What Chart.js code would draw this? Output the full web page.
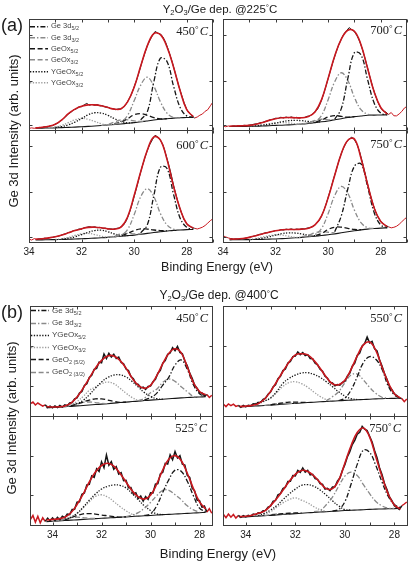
<!DOCTYPE html>
<html>
<head>
<meta charset="utf-8">
<title>Ge 3d XPS spectra</title>
<script src="https://cdn.jsdelivr.net/npm/chart.js@4.4.1/dist/chart.umd.min.js"></script>
<style>
  body { margin: 0; background: #fff; }
  #page { position: relative; width: 413px; height: 569px; overflow: hidden; font-family: "Liberation Sans", Arial, sans-serif; color: #1a1a1a; }
  canvas { position: absolute; }
  .t { position: absolute; white-space: nowrap; line-height: 1; z-index: 2; }
  .title { font-size: 11.5px; transform: translate(-50%, -50%); }
  .title sub { font-size: 7.5px; vertical-align: -2px; line-height: 0; }
  .deg { font-size: 8px; vertical-align: 3px; line-height: 0; }
  .tag { font-size: 18px; transform: translateY(-50%); }
  .ylab { font-size: 13px; transform: translate(-50%, -50%) rotate(-90deg); }
  .xlab { font-size: 12.5px; transform: translate(-50%, -50%); }
  .temp { font-family: "Liberation Serif", "Times New Roman", serif; font-size: 12.5px; transform: translateY(-50%); color: #222; }
  .temp .deg { font-size: 9px; vertical-align: 3px; margin-right: 1px; }
  .lg { position: absolute; display: flex; align-items: center; white-space: nowrap; color: #444; transform: translateY(-50%); z-index: 2; line-height: 1; }
  .lg svg { margin-right: 3px; }
  .lg sub { font-size: 5.5px; vertical-align: -2px; line-height: 0; }
</style>
</head>
<body>
<div id="page">
  <div class="t title" style="left:220px;top:10px">Y<sub>2</sub>O<sub>3</sub>/Ge dep. @225<span class="deg">°</span>C</div>
  <div class="t tag" style="left:1px;top:25px">(a)</div>
  <div class="t ylab" style="left:13px;top:131px">Ge 3d Intensity (arb. units)</div>
  <div class="t xlab" style="left:217px;top:267px">Binding Energy (eV)</div>
  <div class="t temp" style="right:205px;top:31px">450<span class="deg">°</span><i>C</i></div>
  <div class="t temp" style="right:11px;top:30px">700<span class="deg">°</span><i>C</i></div>
  <div class="t temp" style="right:205px;top:145px">600<span class="deg">°</span><i>C</i></div>
  <div class="t temp" style="right:11px;top:144px">750<span class="deg">°</span><i>C</i></div>

  <div class="t title" style="left:219px;top:295px;font-size:12px">Y<sub>2</sub>O<sub>3</sub>/Ge dep. @400<span class="deg">°</span>C</div>
  <div class="t tag" style="left:1px;top:312px">(b)</div>
  <div class="t ylab" style="left:11px;top:418px">Ge 3d Intensity (arb. units)</div>
  <div class="t xlab" style="left:218px;top:553px;font-size:13px">Binding Energy (eV)</div>
  <div class="t temp" style="right:205px;top:318px">450<span class="deg">°</span><i>C</i></div>
  <div class="t temp" style="right:11px;top:318px">550<span class="deg">°</span><i>C</i></div>
  <div class="t temp" style="right:206px;top:428px">525<span class="deg">°</span><i>C</i></div>
  <div class="t temp" style="right:12px;top:428px">750<span class="deg">°</span><i>C</i></div>
</div>

<script>
// energy axes (eV)
const rawA = [34.0, 33.9, 33.8, 33.7, 33.6, 33.5, 33.4, 33.3, 33.2, 33.1, 33.0, 32.9, 32.8, 32.7, 32.6, 32.5, 32.4, 32.3, 32.2, 32.1,
  32.0, 31.9, 31.8, 31.7, 31.6, 31.5, 31.4, 31.3, 31.2, 31.1, 31.0, 30.9, 30.8, 30.7, 30.6, 30.5, 30.4, 30.3, 30.2, 30.1,
  30.0, 29.9, 29.8, 29.7, 29.6, 29.5, 29.4, 29.3, 29.2, 29.1, 29.0, 28.9, 28.8, 28.7, 28.6, 28.5, 28.4, 28.3, 28.2, 28.1,
  28.0, 27.9, 27.8, 27.7, 27.6, 27.5, 27.4, 27.3, 27.2, 27.1, 27.0];
const rawB = [34.9, 34.8, 34.7, 34.6, 34.5, 34.4, 34.3, 34.2, 34.1, 34.0, 33.9, 33.8, 33.7, 33.6, 33.5, 33.4, 33.3, 33.2, 33.1, 33.0,
  32.9, 32.8, 32.7, 32.6, 32.5, 32.4, 32.3, 32.2, 32.1, 32.0, 31.9, 31.8, 31.7, 31.6, 31.5, 31.4, 31.3, 31.2, 31.1, 31.0,
  30.9, 30.8, 30.7, 30.6, 30.5, 30.4, 30.3, 30.2, 30.1, 30.0, 29.9, 29.8, 29.7, 29.6, 29.5, 29.4, 29.3, 29.2, 29.1, 29.0,
  28.9, 28.8, 28.7, 28.6, 28.5, 28.4, 28.3, 28.2, 28.1, 28.0, 27.9, 27.8, 27.7, 27.6, 27.5];
const gridA = [33.75, 33.5, 33.25, 33.0, 32.75, 32.5, 32.25, 32.0, 31.75, 31.5, 31.25, 31.0, 30.75, 30.5, 30.25, 30.0,
  29.75, 29.5, 29.25, 29.0, 28.75, 28.5, 28.25, 28.0, 27.75];
const gridB = [34.25, 34.0, 33.75, 33.5, 33.25, 33.0, 32.75, 32.5, 32.25, 32.0, 31.75, 31.5, 31.25, 31.0, 30.75, 30.5,
  30.25, 30.0, 29.75, 29.5, 29.25, 29.0, 28.75, 28.5, 28.25, 28.0, 27.75];
const ticksA = [34, 33, 32, 31, 30, 29, 28, 27];
const ticksB = [34, 33, 32, 31, 30, 29, 28];
const yTicksA = [5, 45, 86];
const yTicksB = [28, 64];
const _ = null;

// (a) 225 C deposition -- intensities in % of panel height
const a450Raw = [2.3, 2.8, 2.4, 2.9, 3.2, 3.0, 3.8, 3.6, 4.6, 4.9, 6.2, 7.0, 9.1, 10.6, 13.0, 15.2, 16.8, 18.9, 19.8, 21.6,
  21.7, 23.4, 24.6, 23.0, 23.8, 22.9, 23.6, 22.4, 22.6, 21.3, 21.2, 20.0, 19.9, 19.0, 19.8, 19.6, 21.5, 24.1, 28.3, 33.0,
  39.4, 46.0, 53.5, 61.8, 69.0, 76.2, 81.0, 85.6, 88.9, 87.4, 86.6, 83.8, 79.0, 72.6, 65.4, 57.3, 48.6, 40.0, 32.5, 25.2,
  19.4, 15.8, 13.6, 11.6, 12.5, 14.1, 15.2, 17.6, 19.0, 22.5, 26.0];
const a450Fit = [2.8, 3.3, 4.2, 6.0, 10.0, 15.5, 19.5, 22.0, 23.3, 23.3, 22.5, 21.0, 19.5, 19.8, 26.0, 39.0, 58.0, 76.0, 87.0, 86.0, 75.0, 57.0, 36.0, 19.0, 12.8];
const a450Bg = [2.5, 2.6, 2.7, 2.8, 3.0, 3.2, 3.5, 3.8, 4.1, 4.5, 4.9, 5.3, 5.8, 6.3, 6.9, 7.5, 8.2, 9.0, 9.8, 10.5, 11.0, 11.5, 11.8, 12.0, 12.2];
const a450Ge52 = [_, _, _, _, _, _, _, _, _, _, _, _, _, _, _, _, 10.0, 17.0, 44.0, 65.0, 62.0, 40.0, 21.0, 13.5, 12.3];
const a450Ge32 = [_, _, _, _, _, _, _, _, _, _, _, _, 6.0, 8.0, 14.0, 27.0, 41.0, 48.0, 40.0, 26.0, 16.0, 12.0, 11.8, _, _];
const a450Ox52 = [_, _, _, _, _, _, _, _, _, _, _, _, 6.5, 8.0, 11.0, 14.5, 15.5, 14.0, 12.0, 10.8, 11.0, _, _, _, _];
const a450Ox32 = [_, _, _, _, _, _, _, _, _, _, 5.0, 6.0, 8.0, 10.0, 10.0, 9.0, 8.5, 9.0, _, _, _, _, _, _, _];
const a450Y52 = [_, _, _, 3.2, 4.0, 5.5, 8.0, 11.0, 14.5, 16.3, 16.0, 14.0, 11.0, 8.5, 7.2, 7.5, _, _, _, _, _, _, _, _, _];
const a450Y32 = [_, _, 2.8, 3.6, 5.0, 7.5, 10.0, 11.3, 10.5, 8.5, 6.5, 5.5, 5.8, _, _, _, _, _, _, _, _, _, _, _, _];

const a700Raw = [4.4, 3.8, 4.5, 4.1, 4.6, 4.3, 4.9, 4.5, 5.1, 4.8, 5.3, 5.6, 6.2, 6.4, 7.3, 7.6, 8.6, 9.0, 10.2, 10.4,
  11.4, 11.2, 12.3, 11.6, 12.5, 11.8, 12.6, 11.6, 12.2, 11.5, 12.1, 12.0, 13.1, 13.4, 15.0, 17.2, 19.6, 24.5, 31.0, 38.6,
  46.8, 55.0, 63.0, 70.2, 76.8, 82.0, 86.6, 89.5, 92.3, 90.4, 88.8, 85.0, 80.0, 73.2, 65.0, 56.3, 47.4, 38.8, 31.6, 25.4,
  20.6, 17.8, 16.8, 14.8, 16.5, 13.6, 13.5, 15.2, 17.4, 20.5, 22.0];
const a700Fit = [4.3, 4.5, 4.7, 5.0, 6.0, 7.5, 9.5, 11.0, 11.8, 12.0, 11.8, 11.8, 13.0, 17.0, 28.0, 47.0, 67.0, 82.0, 90.0, 89.0, 77.0, 56.0, 35.0, 21.0, 15.0];
const a700Bg = [4.0, 4.0, 4.1, 4.2, 4.3, 4.5, 4.7, 5.0, 5.2, 5.5, 5.8, 6.2, 6.8, 7.5, 8.2, 9.0, 10.0, 11.0, 12.0, 12.8, 13.4, 14.0, 14.2, 14.3, 14.5];
const a700Ge52 = [_, _, _, _, _, _, _, _, _, _, _, _, _, _, _, _, 10.5, 20.0, 47.0, 70.0, 68.0, 46.0, 25.0, 16.0, 14.5];
const a700Ge32 = [_, _, _, _, _, _, _, _, _, _, _, _, 7.0, 8.5, 14.0, 28.0, 44.0, 52.0, 45.0, 30.0, 19.0, 15.0, 14.3, _, _];
const a700Ox52 = [_, _, _, _, _, _, _, _, _, _, _, _, 6.9, 8.0, 9.8, 12.5, 13.8, 13.0, 12.3, 12.9, _, _, _, _, _];
const a700Ox32 = [_, _, _, _, _, _, _, _, _, _, 5.8, 6.4, 7.5, 9.5, 10.5, 10.0, 10.0, _, _, _, _, _, _, _, _];
const a700Y52 = [_, _, _, 4.3, 4.6, 5.2, 6.0, 7.0, 8.3, 9.2, 9.5, 9.2, 8.5, 8.0, 8.3, _, _, _, _, _, _, _, _, _, _];
const a700Y32 = [_, _, _, 4.3, 4.8, 5.5, 6.5, 7.3, 7.6, 7.2, 6.5, 6.3, _, _, _, _, _, _, _, _, _, _, _, _, _];

const a600Raw = [3.5, 2.6, 3.9, 3.2, 3.8, 3.6, 4.3, 4.0, 4.9, 5.0, 5.6, 6.0, 6.6, 7.6, 8.2, 9.3, 9.8, 11.0, 11.3, 12.4,
  12.3, 13.6, 13.9, 14.5, 13.8, 14.4, 13.5, 13.9, 13.0, 13.2, 12.4, 12.6, 12.1, 12.8, 13.2, 14.3, 16.0, 19.6, 25.4, 32.6,
  41.0, 49.6, 58.5, 67.2, 74.8, 81.8, 87.4, 91.6, 95.3, 93.8, 91.0, 86.6, 78.9, 70.6, 61.5, 51.0, 42.0, 33.5, 26.8, 20.6,
  17.2, 14.8, 13.6, 13.0, 12.4, 13.1, 14.0, 15.5, 17.6, 19.8, 21.5];
const a600Fit = [3.3, 3.8, 4.5, 5.5, 7.0, 9.0, 11.0, 12.5, 13.8, 14.0, 13.5, 12.5, 12.3, 14.0, 23.0, 42.0, 63.0, 82.0, 94.0, 91.0, 74.0, 50.0, 30.0, 17.0, 13.3];
const a600Bg = [2.8, 2.8, 2.9, 3.0, 3.1, 3.3, 3.5, 3.8, 4.0, 4.3, 4.6, 5.0, 5.5, 6.0, 6.5, 7.0, 7.7, 8.5, 9.3, 10.0, 10.6, 11.2, 11.5, 11.8, 12.0];
const a600Ge52 = [_, _, _, _, _, _, _, _, _, _, _, _, _, _, _, _, 9.0, 16.0, 42.0, 67.0, 66.0, 43.0, 22.0, 14.0, 12.2];
const a600Ge32 = [_, _, _, _, _, _, _, _, _, _, _, _, 5.8, 7.0, 12.0, 25.0, 41.0, 48.0, 41.0, 26.0, 16.0, 12.2, 11.6, _, _];
const a600Ox52 = [_, _, _, _, _, _, _, _, _, _, _, _, 5.6, 6.5, 8.5, 11.0, 12.5, 12.3, 11.5, 11.0, 10.8, _, _, _, _];
const a600Ox32 = [_, _, _, _, _, _, _, _, _, _, _, 5.2, 6.3, 8.0, 8.5, 8.0, 8.0, _, _, _, _, _, _, _, _];
const a600Y52 = [_, _, _, _, 3.5, 4.3, 5.5, 7.5, 9.5, 11.0, 11.3, 10.0, 8.0, 6.8, 6.6, _, _, _, _, _, _, _, _, _, _];
const a600Y32 = [_, _, _, 3.1, 3.8, 5.0, 6.8, 8.2, 8.5, 7.5, 6.0, 5.2, 5.5, _, _, _, _, _, _, _, _, _, _, _, _];

const a750Raw = [6.4, 5.4, 4.5, 3.9, 3.4, 3.7, 3.2, 3.9, 4.0, 4.6, 5.1, 5.6, 6.3, 6.9, 7.7, 8.1, 9.0, 9.1, 10.0, 10.2,
  11.1, 11.0, 11.8, 11.4, 12.3, 11.8, 12.5, 11.7, 12.4, 12.0, 12.6, 12.4, 13.2, 13.5, 14.6, 15.9, 18.3, 21.5, 26.6, 32.8,
  40.4, 48.0, 56.3, 64.0, 72.0, 79.2, 84.8, 89.4, 92.0, 93.6, 91.4, 87.2, 80.6, 71.6, 62.0, 52.2, 43.0, 35.0, 28.0, 22.8,
  19.2, 17.0, 15.2, 14.3, 13.4, 13.9, 14.8, 16.5, 18.8, 21.0, 23.0];
const a750Fit = [3.5, 3.5, 4.0, 5.0, 6.5, 8.0, 9.5, 10.8, 11.7, 12.0, 12.0, 12.3, 13.0, 16.0, 24.0, 40.0, 60.0, 79.0, 91.0, 92.0, 75.0, 52.0, 31.0, 19.0, 14.5];
const a750Bg = [2.8, 2.9, 2.9, 3.0, 3.1, 3.2, 3.4, 3.6, 3.9, 4.2, 4.6, 5.0, 5.5, 6.0, 6.6, 7.3, 8.1, 9.0, 9.9, 10.8, 11.6, 12.3, 12.8, 13.2, 13.4];
const a750Ge52 = [_, _, _, _, _, _, _, _, _, _, _, _, _, _, _, _, 10.0, 24.0, 48.0, 68.0, 70.0, 50.0, 27.0, 16.0, 13.6];
const a750Ge32 = [_, _, _, _, _, _, _, _, _, _, _, _, 6.0, 7.5, 13.0, 26.0, 42.0, 50.0, 44.0, 29.0, 18.0, 13.5, 12.8, _, _];
const a750Ox52 = [_, _, _, _, _, _, _, _, _, _, _, _, 5.8, 6.5, 8.5, 12.0, 14.0, 14.0, 13.0, 12.0, 11.8, _, _, _, _];
const a750Ox32 = [_, _, _, _, _, _, _, _, _, _, _, 5.5, 7.0, 9.0, 10.0, 9.5, 9.0, _, _, _, _, _, _, _, _];
const a750Y52 = [_, _, _, _, 3.5, 4.3, 5.5, 7.0, 8.3, 9.0, 8.8, 8.0, 7.0, 6.5, _, _, _, _, _, _, _, _, _, _, _];
const a750Y32 = [_, _, _, 3.2, 4.0, 5.3, 6.5, 7.2, 7.0, 6.0, 5.0, 5.0, _, _, _, _, _, _, _, _, _, _, _, _, _];

// (b) 400 C deposition
const b450Raw = [12.0, 13.5, 10.8, 12.6, 11.2, 9.8, 11.0, 8.6, 9.8, 8.2, 9.9, 8.5, 10.4, 9.0, 10.9, 10.2, 12.6, 13.0, 16.4, 17.2,
  21.5, 23.0, 28.4, 30.0, 35.6, 37.5, 43.0, 43.8, 49.5, 48.9, 56.8, 52.6, 57.4, 54.0, 56.6, 52.8, 54.0, 49.2, 48.0, 43.2,
  41.8, 36.5, 34.6, 30.0, 29.4, 26.2, 27.0, 24.8, 27.6, 27.9, 31.8, 33.9, 39.5, 42.0, 48.6, 50.8, 56.4, 57.6, 62.5, 59.8,
  63.5, 58.2, 57.0, 50.4, 46.2, 39.5, 34.8, 28.6, 26.0, 22.0, 21.6, 19.0, 20.2, 17.6, 19.6];
const b450Fit = [9.5, 9.0, 9.2, 10.0, 12.5, 18.0, 26.0, 35.0, 44.0, 51.0, 55.0, 55.0, 51.0, 44.0, 35.0, 28.5, 25.8, 28.5, 37.0, 48.0, 57.5, 61.5, 58.0, 45.0, 31.0, 23.0, 20.0];
const b450Bg = [8.3, 8.6, 8.9, 9.2, 9.6, 10.0, 10.4, 10.8, 11.2, 11.6, 12.0, 12.5, 13.0, 13.4, 13.9, 14.3, 14.8, 15.2, 15.6, 16.0, 16.4, 16.8, 17.2, 17.5, 17.8, 18.0, 18.2];
const b450Ge52 = [_, _, _, _, _, _, _, _, _, _, _, _, _, _, _, _, 15.5, 17.5, 21.3, 28.8, 36.0, 46.8, 51.4, 43.0, 29.0, 21.0, 18.5];
const b450Ge32 = [_, _, _, _, _, _, _, _, _, _, _, _, _, _, _, 14.5, 17.0, 21.9, 25.0, 31.2, 34.2, 32.1, 27.3, 22.8, 18.5, 18.0, _];
const b450Y52 = [_, _, _, _, 10.2, 12.0, 15.0, 20.0, 26.0, 31.5, 35.5, 37.8, 38.0, 36.0, 32.0, 27.0, 22.0, 18.5, 16.5, 16.0, _, _, _, _, _, _, _];
const b450Y32 = [_, _, _, 9.5, 11.0, 14.0, 18.5, 24.0, 27.0, 30.0, 31.5, 30.0, 26.0, 21.5, 17.5, 15.0, 14.8, _, _, _, _, _, _, _, _, _, _];
const b450GeO52 = [_, _, _, _, 10.0, 11.5, 13.5, 15.3, 16.3, 16.3, 15.3, 14.0, 13.2, 13.4, _, _, _, _, _, _, _, _, _, _, _, _, _];
const b450GeO32 = [_, _, _, 9.3, 10.5, 12.0, 13.2, 13.5, 13.0, 12.3, 12.0, _, _, _, _, _, _, _, _, _, _, _, _, _, _, _, _];

const b550Raw = [11.5, 9.4, 11.8, 10.2, 11.6, 9.6, 10.4, 8.8, 10.5, 9.2, 10.6, 10.1, 11.8, 11.4, 13.0, 13.2, 16.0, 17.0, 20.6, 22.4,
  27.0, 29.0, 34.5, 36.6, 41.8, 43.2, 48.6, 50.0, 54.4, 54.8, 58.6, 56.2, 58.0, 55.4, 56.2, 52.6, 52.4, 48.4, 47.0, 43.0,
  41.2, 36.6, 35.0, 31.2, 30.6, 28.0, 29.2, 28.6, 31.2, 32.0, 36.8, 39.6, 45.8, 48.6, 55.4, 57.6, 64.0, 66.2, 72.0, 66.8,
  68.2, 61.4, 59.6, 51.6, 46.0, 39.2, 34.0, 27.4, 24.6, 20.8, 19.4, 17.0, 16.6, 13.8, 16.2];
const b550Fit = [9.5, 9.8, 10.5, 12.0, 16.0, 23.0, 32.0, 41.0, 49.5, 56.0, 57.0, 56.0, 51.0, 44.0, 36.0, 30.0, 29.0, 33.0, 43.0, 55.0, 65.0, 67.5, 60.0, 45.0, 31.0, 21.0, 17.0];
const b550Bg = [9.2, 9.4, 9.7, 10.0, 10.4, 10.8, 11.1, 11.5, 11.9, 12.3, 12.6, 13.0, 13.3, 13.7, 14.0, 14.3, 14.6, 15.0, 15.2, 15.5, 15.8, 16.0, 16.3, 16.5, 16.7, 16.8, 17.0];
const b550Ge52 = [_, _, _, _, _, _, _, _, _, _, _, _, _, _, _, _, 14.8, 17.0, 24.3, 36.3, 49.0, 54.4, 52.0, 43.0, 28.0, 20.0, 17.0];
const b550Ge32 = [_, _, _, _, _, _, _, _, _, _, _, _, _, _, 14.5, 18.3, 22.8, 30.9, 37.8, 38.7, 33.3, 26.7, 21.3, 17.8, 16.9, _, _];
const b550Y52 = [_, _, 11.0, 13.2, 14.5, 17.0, 23.0, 30.3, 34.8, 37.8, 39.6, 39.9, 38.4, 35.7, 31.8, 27.3, 22.8, 18.9, 16.5, 15.7, _, _, _, _, _, _, _];
const b550Y32 = [_, _, _, 12.0, 14.0, 17.5, 22.0, 27.5, 31.0, 31.8, 30.0, 26.8, 22.5, 18.5, 15.8, 14.6, _, _, _, _, _, _, _, _, _, _, _];
const b550GeO52 = [_, _, _, _, _, 10.8, 11.8, 12.8, 13.4, 13.4, 13.2, 13.2, _, _, _, _, _, _, _, _, _, _, _, _, _, _, _];
const b550GeO32 = [_, _, _, _, 10.4, 11.3, 12.0, 12.2, 12.2, 12.3, _, _, _, _, _, _, _, _, _, _, _, _, _, _, _, _, _];

const b525Raw = [6.0, 9.5, 3.5, 8.8, 2.8, 7.5, 4.2, 7.2, 4.6, 7.4, 5.0, 7.8, 5.6, 8.8, 7.6, 10.8, 10.4, 15.0, 15.2, 21.6,
  22.0, 28.8, 30.0, 37.4, 37.8, 45.6, 44.2, 52.0, 49.6, 58.4, 53.0, 64.5, 55.2, 58.4, 51.6, 54.0, 47.2, 48.6, 41.2, 41.6,
  34.8, 35.0, 29.0, 30.2, 25.0, 27.2, 22.6, 26.8, 24.2, 30.2, 30.0, 38.0, 38.6, 47.4, 48.8, 57.0, 56.4, 64.6, 60.2, 67.6,
  61.8, 64.0, 56.2, 55.4, 46.0, 44.2, 34.4, 32.0, 23.6, 23.0, 17.0, 18.2, 12.6, 15.8, 11.6];
const b525Fit = [5.5, 6.0, 6.5, 8.0, 12.0, 19.5, 29.0, 40.0, 49.0, 55.0, 57.0, 54.5, 48.0, 40.0, 32.0, 26.5, 24.5, 28.0, 38.0, 51.0, 61.0, 64.0, 59.5, 48.0, 34.0, 22.0, 15.5];
const b525Bg = [4.0, 4.3, 4.6, 5.0, 5.3, 5.6, 6.0, 6.3, 6.7, 7.0, 7.3, 7.6, 8.0, 8.3, 8.7, 9.0, 9.3, 9.6, 10.0, 10.3, 10.6, 10.9, 11.2, 11.5, 11.8, 12.1, 12.4];
const b525Ge52 = [_, _, _, _, _, _, _, _, _, _, _, _, _, _, _, _, 9.6, 11.0, 18.3, 30.6, 42.2, 50.8, 49.8, 40.7, 27.5, 16.2, 13.0];
const b525Ge32 = [_, _, _, _, _, _, _, _, _, _, _, _, _, 8.5, 10.0, 12.2, 16.2, 21.4, 27.5, 32.4, 32.4, 28.4, 23.9, 18.3, 14.7, 12.5, _];
const b525Y52 = [_, _, _, 6.0, 7.8, 11.5, 17.0, 23.5, 29.0, 33.6, 36.1, 37.3, 37.0, 34.6, 29.4, 23.9, 18.3, 14.1, 11.0, 10.4, _, _, _, _, _, _, _];
const b525Y32 = [_, _, 5.0, 6.3, 8.2, 11.5, 16.5, 22.0, 26.9, 28.4, 26.3, 22.3, 17.7, 13.8, 10.7, 9.2, _, _, _, _, _, _, _, _, _, _, _];
const b525GeO52 = [_, _, _, 5.5, 7.5, 9.5, 11.0, 11.3, 10.8, 10.0, 9.3, 8.6, 8.0, 8.3, _, _, _, _, _, _, _, _, _, _, _, _, _];
const b525GeO32 = [_, 4.3, 5.0, 6.3, 7.6, 8.0, 7.6, 7.0, 6.8, _, _, _, _, _, _, _, _, _, _, _, _, _, _, _, _, _, _];

const b750Raw = [10.5, 7.6, 10.8, 8.0, 10.4, 7.2, 9.6, 7.8, 9.4, 8.2, 9.8, 9.0, 10.8, 10.2, 12.0, 11.8, 13.8, 14.2, 17.2, 18.0,
  22.4, 23.2, 28.4, 29.4, 34.0, 35.2, 40.4, 40.6, 45.8, 45.6, 50.6, 48.8, 52.8, 49.0, 50.6, 46.4, 47.0, 43.0, 42.4, 38.6,
  37.8, 33.6, 34.2, 32.2, 35.4, 35.6, 40.8, 43.6, 50.4, 55.8, 62.8, 67.6, 74.0, 77.8, 83.4, 85.2, 90.6, 88.0, 86.8, 81.6,
  76.4, 68.6, 62.0, 53.0, 46.8, 38.6, 33.2, 26.4, 23.0, 18.4, 16.6, 15.0, 18.4, 20.0, 21.8];
const b750Fit = [8.5, 8.8, 9.8, 11.5, 13.5, 18.5, 25.0, 32.5, 40.5, 47.0, 50.5, 49.5, 45.5, 39.5, 34.0, 34.0, 41.5, 57.0, 73.0, 85.0, 89.0, 81.0, 63.0, 45.0, 29.0, 19.0, 15.5];
const b750Bg = [8.0, 8.3, 8.7, 9.0, 9.4, 9.7, 10.1, 10.5, 10.8, 11.2, 11.6, 12.0, 12.3, 12.7, 13.0, 13.4, 13.7, 14.1, 14.3, 14.6, 14.8, 15.1, 15.3, 15.5, 15.7, 15.8, 16.0];
const b750Ge52 = [_, _, _, _, _, _, _, _, _, _, _, _, _, _, _, 13.6, 15.0, 22.0, 38.0, 56.0, 69.0, 67.0, 55.0, 40.0, 27.0, 19.5, 16.5];
const b750Ge32 = [_, _, _, _, _, _, _, _, _, _, _, _, 13.0, 14.0, 19.3, 26.3, 36.1, 45.3, 48.9, 45.9, 37.6, 29.4, 22.3, 18.3, 16.2, 15.9, _];
const b750Y52 = [_, _, _, 9.5, 11.5, 14.5, 18.5, 24.0, 29.0, 33.5, 37.0, 37.6, 36.1, 32.7, 28.1, 22.9, 18.3, 14.9, 14.5, _, _, _, _, _, _, _, _];
const b750Y32 = [_, _, _, 9.3, 10.5, 13.0, 17.0, 21.0, 24.0, 25.5, 23.5, 21.0, 17.5, 14.8, 13.3, _, _, _, _, _, _, _, _, _, _, _, _];
const b750GeO52 = [_, _, _, _, _, 9.7, 10.6, 11.3, 11.6, 11.8, 11.9, _, _, _, _, _, _, _, _, _, _, _, _, _, _, _, _];
const b750GeO32 = [_, _, _, _, 9.4, 10.2, 10.9, 11.0, 11.0, _, _, _, _, _, _, _, _, _, _, _, _, _, _, _, _, _, _];

const RED = '#c9181f';
const BLACK = '#161616';
const GRAY = '#8a8a8a';
const LIGHT = '#9e9e9e';
const DASHDOT = [5, 2, 1.4, 2];
const DASHED = [5, 2.6];
const DOTTED = [1.3, 1.5];

const labelsA = ['Ge 3d<sub>5/2</sub>', 'Ge 3d<sub>3/2</sub>', 'GeOx<sub>5/2</sub>', 'GeOx<sub>3/2</sub>', 'YGeOx<sub>5/2</sub>', 'YGeOx<sub>3/2</sub>'];
const labelsB = ['Ge 3d<sub>5/2</sub>', 'Ge 3d<sub>3/2</sub>', 'YGeOx<sub>5/2</sub>', 'YGeOx<sub>3/2</sub>', 'GeO<sub>2 (5/2)</sub>', 'GeO<sub>2 (3/2)</sub>'];
const stylesA = [[BLACK, DASHDOT], [GRAY, DASHDOT], [BLACK, DASHED], [GRAY, DASHED], [BLACK, DOTTED], [LIGHT, DOTTED]];
const stylesB = [[BLACK, DASHDOT], [GRAY, DASHDOT], [BLACK, DOTTED], [LIGHT, DOTTED], [BLACK, DASHED], [GRAY, DASHED]];

const axes = {
  a: { min: 27, max: 34, ticks: ticksA, yticks: yTicksA, rawX: rawA, gridX: gridA, fitHi: 33.7, fitLo: 27.7, styles: stylesA, rawWidth: 1 },
  b: { min: 27.45, max: 34.92, ticks: ticksB, yticks: yTicksB, rawX: rawB, gridX: gridB, fitHi: 34.3, fitLo: 27.7, styles: stylesB, rawWidth: 1.5 }
};

const panels = [
  { set: 'a', x: 29, y: 19, w: 184, h: 112, bottom: false, raw: a450Raw, fit: a450Fit, bg: a450Bg, comps: [a450Ge52, a450Ge32, a450Ox52, a450Ox32, a450Y52, a450Y32] },
  { set: 'a', x: 223, y: 19, w: 184, h: 112, bottom: false, raw: a700Raw, fit: a700Fit, bg: a700Bg, comps: [a700Ge52, a700Ge32, a700Ox52, a700Ox32, a700Y52, a700Y32] },
  { set: 'a', x: 29, y: 130, w: 184, h: 113, bottom: true, raw: a600Raw, fit: a600Fit, bg: a600Bg, comps: [a600Ge52, a600Ge32, a600Ox52, a600Ox32, a600Y52, a600Y32] },
  { set: 'a', x: 223, y: 130, w: 184, h: 113, bottom: true, raw: a750Raw, fit: a750Fit, bg: a750Bg, comps: [a750Ge52, a750Ge32, a750Ox52, a750Ox32, a750Y52, a750Y32] },
  { set: 'b', x: 30, y: 306, w: 183, h: 111, bottom: false, raw: b450Raw, fit: b450Fit, bg: b450Bg, comps: [b450Ge52, b450Ge32, b450Y52, b450Y32, b450GeO52, b450GeO32] },
  { set: 'b', x: 223, y: 306, w: 185, h: 111, bottom: false, raw: b550Raw, fit: b550Fit, bg: b550Bg, comps: [b550Ge52, b550Ge32, b550Y52, b550Y32, b550GeO52, b550GeO32] },
  { set: 'b', x: 30, y: 416, w: 183, h: 110, bottom: true, raw: b525Raw, fit: b525Fit, bg: b525Bg, comps: [b525Ge52, b525Ge32, b525Y52, b525Y32, b525GeO52, b525GeO32] },
  { set: 'b', x: 223, y: 416, w: 185, h: 110, bottom: true, raw: b750Raw, fit: b750Fit, bg: b750Bg, comps: [b750Ge52, b750Ge32, b750Y52, b750Y32, b750GeO52, b750GeO32] }
];

Chart.defaults.font.family = "'Liberation Sans', Arial, sans-serif";

function series(xs, ys) {
  const out = [];
  ys.forEach((y, i) => { if (y !== null) out.push({ x: xs[i], y: y }); });
  return out;
}

// box + inward tick marks on all four sides
const frame = {
  id: 'frame',
  afterDatasetsDraw(chart, args, opts) {
    const { ctx, chartArea: a, scales } = chart;
    const L = a.left + 0.5, R = a.right - 0.5, T = a.top + 0.5, B = a.bottom - 0.5;
    ctx.save();
    ctx.strokeStyle = '#3c3c3c';
    ctx.lineWidth = 1;
    ctx.strokeRect(L, T, R - L, B - T);
    ctx.beginPath();
    opts.xticks.forEach(v => {
      const px = Math.round(scales.x.getPixelForValue(v)) + 0.5;
      ctx.moveTo(px, B); ctx.lineTo(px, B - 3);
      ctx.moveTo(px, T); ctx.lineTo(px, T + 3);
    });
    opts.yticks.forEach(v => {
      const py = Math.round(scales.y.getPixelForValue(v)) + 0.5;
      ctx.moveTo(L, py); ctx.lineTo(L + 3, py);
      ctx.moveTo(R, py); ctx.lineTo(R - 3, py);
    });
    ctx.stroke();
    ctx.restore();
  }
};

function makeChart(p) {
  const ax = axes[p.set];
  const pad = 10;
  const labelH = p.bottom ? 15 : 0;
  const cw = p.w + 2 * pad, ch = p.h + 2 * pad + labelH;
  const cv = document.createElement('canvas');
  cv.width = cw;
  cv.height = ch;
  cv.style.left = (p.x - pad) + 'px';
  cv.style.top = (p.y - pad) + 'px';
  cv.style.width = cw + 'px';
  cv.style.height = ch + 'px';
  document.getElementById('page').appendChild(cv);

  const inFit = i => ax.rawX[i] <= ax.fitHi + 1e-6 && ax.rawX[i] >= ax.fitLo - 1e-6;

  const datasets = [];
  datasets.push({ data: series(ax.gridX, p.fit), borderColor: RED, borderWidth: 1.6, tension: 0.4 });
  datasets.push({
    data: series(ax.rawX, p.raw), borderColor: BLACK, borderWidth: ax.rawWidth, tension: 0,
    segment: { borderColor: c => (inFit(c.p0DataIndex) && inFit(c.p1DataIndex) ? BLACK : RED) }
  });
  p.comps.forEach((vals, k) => {
    const st = ax.styles[k];
    datasets.push({ data: series(ax.gridX, vals), borderColor: st[0], borderDash: st[1], borderWidth: 1.3, tension: 0.4 });
  });
  datasets.push({ data: series(ax.gridX, p.bg), borderColor: BLACK, borderWidth: 1.1, tension: 0.3 });

  return new Chart(cv, {
    type: 'line',
    data: { datasets: datasets },
    plugins: [frame],
    options: {
      responsive: false,
      animation: false,
      events: [],
      layout: { padding: pad },
      elements: { point: { radius: 0 }, line: { fill: false } },
      plugins: {
        legend: { display: false },
        tooltip: { enabled: false },
        frame: { xticks: ax.ticks, yticks: ax.yticks }
      },
      scales: {
        x: {
          type: 'linear', min: ax.min, max: ax.max, reverse: true,
          display: p.bottom,
          afterBuildTicks: s => { s.ticks = ax.ticks.map(v => ({ value: v })); },
          afterFit: s => { s.height = labelH; },
          grid: { display: false, drawTicks: false },
          border: { display: false },
          ticks: {
            autoSkip: false, maxRotation: 0, padding: 3, color: '#222', font: { size: 10 },
            callback: v => (v % 2 === 0 ? String(v) : '')
          }
        },
        y: { type: 'linear', min: 0, max: 100, display: false }
      }
    }
  });
}

function makeLegend(labels, styles, x, y0, step, size) {
  const page = document.getElementById('page');
  labels.forEach((txt, i) => {
    const row = document.createElement('div');
    row.className = 'lg';
    row.style.left = x + 'px';
    row.style.top = (y0 + i * step) + 'px';
    row.style.fontSize = size + 'px';
    const st = styles[i];
    row.innerHTML = '<svg width="18" height="5"><line x1="0" y1="2.5" x2="18" y2="2.5" stroke="' + st[0] +
      '" stroke-width="1.4" stroke-dasharray="' + st[1].join(' ') + '"/></svg><span>' + txt + '</span>';
    page.appendChild(row);
  });
}

panels.forEach(makeChart);
makeLegend(labelsA, stylesA, 30, 26.3, 11.3, 7.5);
makeLegend(labelsB, stylesB, 31, 310.7, 12.3, 8);
</script>
</body>
</html>
